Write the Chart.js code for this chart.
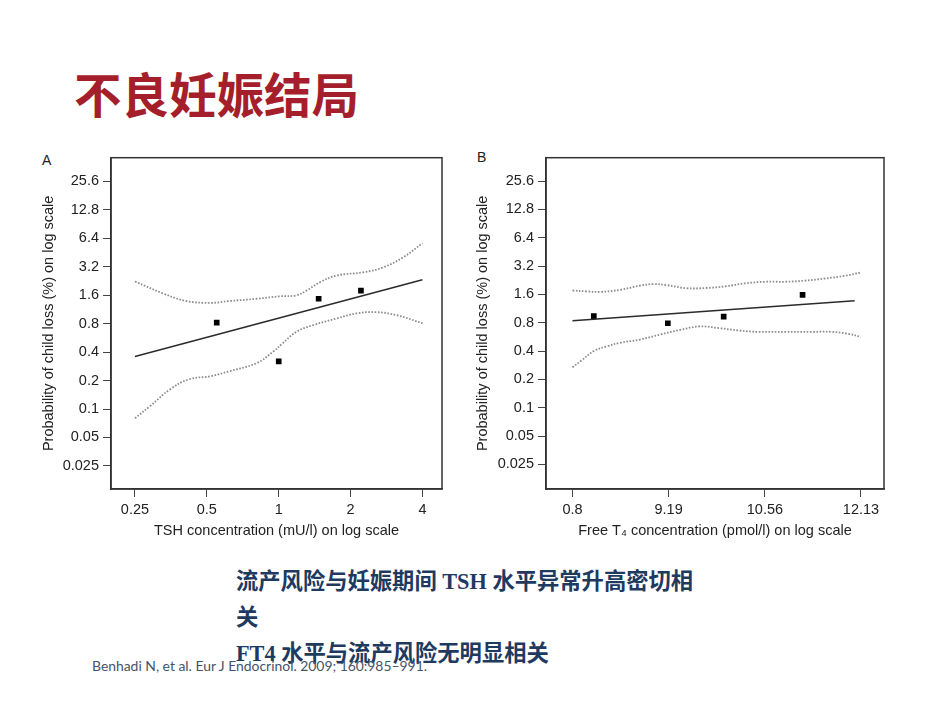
<!DOCTYPE html>
<html>
<head>
<meta charset="utf-8">
<script src="https://cdn.jsdelivr.net/npm/chart.js@4"></script>
<style>
  body { margin: 0; background: #fff; width: 950px; height: 713px; position: relative; overflow: hidden; }
  .titre { position: absolute; left: 74px; top: 68px; font-family: "Noto Sans CJK SC", sans-serif; font-weight: bold; font-size: 47.5px; line-height: 50px; color: #a51e2b; }
  .panneau { position: absolute; }
  .lettre { position: absolute; font-family: "Liberation Sans", Arial, sans-serif; font-size: 14px; color: #222; }
  .conclusion { position: absolute; left: 236px; top: 564px; width: 470px; font-family: "Liberation Serif", "Noto Sans CJK SC", serif; font-weight: bold; font-size: 22.3px; line-height: 36px; color: #1f3a5f; }
  .conclusion p { margin: 0; }
  .ref { position: absolute; left: 92px; top: 657px; font-family: Lato, sans-serif; font-size: 13.9px; color: #44546a; z-index: 2; white-space: nowrap; }
</style>
</head>
<body>
<div class="titre">不良妊娠结局</div>
<div class="lettre" style="left:42px; top:152px;">A</div>
<div class="lettre" style="left:477px; top:149px;">B</div>
<div class="panneau" style="left:30px; top:145px; width:420px; height:400px;"><canvas id="tshchart"></canvas></div>
<div class="panneau" style="left:465px; top:145px; width:430px; height:400px;"><canvas id="ft4chart"></canvas></div>
<div class="conclusion">
  <p>流产风险与妊娠期间 TSH 水平异常升高密切相关</p>
  <p>FT4 水平与流产风险无明显相关</p>
</div>
<div class="ref">Benhadi N, et al. Eur J Endocrinol. 2009; 160:985–991.</div>

<script>
//---donnees-TSH---//
var tshTicks = [0.25, 0.5, 1, 2, 4];
var tshPointX = [0.55, 1.0, 1.47, 2.21];
var tshPointY = [0.82, 0.32, 1.47, 1.79];
var tshFitX = [0.25, 4];
var tshFitY = [0.36, 2.33];
var tshUpperX = [0.25, 0.33, 0.41, 0.52, 0.62, 0.81, 1.01, 1.19, 1.31, 1.49, 1.75, 2.26, 2.74, 3.32, 4];
var tshUpperY = [2.24, 1.66, 1.39, 1.33, 1.39, 1.47, 1.56, 1.6, 1.8, 2.2, 2.59, 2.8, 3.16, 4.03, 5.69];
var tshLowerX = [0.25, 0.29, 0.35, 0.42, 0.52, 0.62, 0.81, 0.95, 1.04, 1.19, 1.40, 1.75, 2.12, 2.57, 3.12, 4];
var tshLowerY = [0.080, 0.108, 0.161, 0.206, 0.223, 0.251, 0.307, 0.407, 0.498, 0.66, 0.775, 0.91, 1.03, 1.06, 0.985, 0.81];

//---donnees-FT4---//
var ft4Ticks = [8, 9.19, 10.56, 12.13];
var ft4TickLabels = ['0.8', '9.19', '10.56', '12.13'];
var ft4PointX = [8.25, 9.18, 9.95, 11.15];
var ft4PointY = [0.94, 0.79, 0.93, 1.58];
var ft4FitX = [8, 12.02];
var ft4FitY = [0.84, 1.37];
var ft4UpperX = [8.00, 8.17, 8.33, 8.57, 8.82, 8.99, 9.16, 9.43, 9.70, 9.98, 10.27, 10.57, 10.88, 11.19, 11.52, 11.85, 12.13];
var ft4UpperY = [1.76, 1.72, 1.70, 1.79, 1.98, 2.06, 2.01, 1.86, 1.87, 1.95, 2.10, 2.18, 2.18, 2.24, 2.36, 2.52, 2.73];
var ft4LowerX = [8.00, 8.10, 8.25, 8.41, 8.57, 8.82, 9.08, 9.34, 9.61, 9.89, 10.18, 10.47, 10.88, 11.30, 11.63, 11.91, 12.13];
var ft4LowerY = [0.269, 0.315, 0.40, 0.45, 0.49, 0.53, 0.60, 0.67, 0.73, 0.70, 0.66, 0.64, 0.64, 0.64, 0.64, 0.61, 0.565];

//---axe-y-commun---//
var probTicks = [0.025, 0.05, 0.1, 0.2, 0.4, 0.8, 1.6, 3.2, 6.4, 12.8, 25.6];
var yTitle = 'Probability of child loss (%) on log scale';

function points(xs, ys) {
    return xs.map((x, i) => ({x: x, y: ys[i]}));
}

var police = {family: '"Liberation Sans", Arial, sans-serif', size: 14.5};
var encre = '#222';

// cadre autour de la zone du graphique
var cadre = {
  id: 'cadre',
  afterDraw: function(chart) {
      var a = chart.chartArea;
      var ctx = chart.ctx;
      ctx.save();
      ctx.strokeStyle = '#333';
      ctx.lineWidth = 1.5;
      ctx.strokeRect(a.left, a.top, a.right - a.left, a.bottom - a.top);
      ctx.restore();
  }
};

function makeConfig(sets, xOpts, yMin, yMax, yTitlePad, pad) {
  return {
    type: 'scatter',
    data: {
      datasets: [
        {data: points(sets.upperX, sets.upperY), showLine: true, borderColor: '#8c8c8c', borderWidth: 1.8, borderDash: [1.6, 1.6], pointRadius: 0, tension: 0.4},
        {data: points(sets.lowerX, sets.lowerY), showLine: true, borderColor: '#8c8c8c', borderWidth: 1.8, borderDash: [1.6, 1.6], pointRadius: 0, tension: 0.4},
        {data: points(sets.fitX, sets.fitY), showLine: true, borderColor: '#2b2b2b', borderWidth: 1.5, pointRadius: 0},
        {data: points(sets.pointX, sets.pointY), showLine: false, pointStyle: 'rect', pointRadius: 4, backgroundColor: '#000', borderColor: '#000', borderWidth: 0}
      ]
    },
    options: {
      responsive: true,
      maintainAspectRatio: false,
      animation: false,
      layout: {padding: pad},
      scales: {
        x: Object.assign({
          type: 'logarithmic',
          position: 'bottom',
          afterFit: function(scale) { scale.height = 56; },
          grid: {drawOnChartArea: false, drawTicks: true, tickLength: 8, color: '#444'},
          border: {display: true, color: '#333', width: 1.5},
          title: {display: true, color: encre, font: police, padding: {top: 0, bottom: 5}}
        }, xOpts),
        y: {
          type: 'logarithmic',
          min: yMin,
          max: yMax,
          afterFit: function(scale) { scale.width = 81; },
          afterBuildTicks: function(axis) { axis.ticks = probTicks.map(v => ({value: v})); },
          ticks: {autoSkip: false, color: encre, font: police, padding: 4, callback: function(v) { return String(v); }},
          grid: {drawOnChartArea: false, drawTicks: true, tickLength: 8, color: '#444'},
          border: {display: true, color: '#333', width: 1.5},
          title: {display: true, text: yTitle, color: encre, font: police, padding: {top: yTitlePad, bottom: 0}}
        }
      },
      plugins: {
        legend: {display: false},
        tooltip: {enabled: false}
      }
    },
    plugins: [cadre]
  };
}

//---TSH---//
var tshConfig = makeConfig(
  {pointX: tshPointX, pointY: tshPointY, fitX: tshFitX, fitY: tshFitY, upperX: tshUpperX, upperY: tshUpperY, lowerX: tshLowerX, lowerY: tshLowerY},
  {
    min: 0.1984, max: 4.83,
    afterBuildTicks: function(axis) { axis.ticks = tshTicks.map(v => ({value: v})); },
    ticks: {autoSkip: false, maxRotation: 0, color: encre, font: police, padding: 4, callback: function(v) { return String(v); }},
    title: {display: true, text: 'TSH concentration (mU/l) on log scale', color: encre, font: police, padding: {top: 0, bottom: 5}}
  },
  0.01425, 45.7, 10.6,
  {left: 0, top: 9.5, right: 8, bottom: 0}
);
var tshctx = document.getElementById('tshchart').getContext('2d');
var tshchart = new Chart(tshctx, tshConfig);

//---FT4---//
var ft4Config = makeConfig(
  {pointX: ft4PointX, pointY: ft4PointY, fitX: ft4FitX, fitY: ft4FitY, upperX: ft4UpperX, upperY: ft4UpperY, lowerX: ft4LowerX, lowerY: ft4LowerY},
  {
    min: 7.73, max: 12.54,
    afterBuildTicks: function(axis) { axis.ticks = ft4Ticks.map(v => ({value: v})); },
    ticks: {autoSkip: false, maxRotation: 0, color: encre, font: police, padding: 4, callback: function(v, i) { return ft4TickLabels[i]; }},
    title: {display: true, text: 'Free T\u2084 concentration (pmol/l) on log scale', color: encre, font: police, padding: {top: 0, bottom: 5}}
  },
  0.0137, 45.3, 9.6,
  {left: 0, top: 7.3, right: 11, bottom: 0}
);
var ft4ctx = document.getElementById('ft4chart').getContext('2d');
var ft4chart = new Chart(ft4ctx, ft4Config);
</script>
</body>
</html>
